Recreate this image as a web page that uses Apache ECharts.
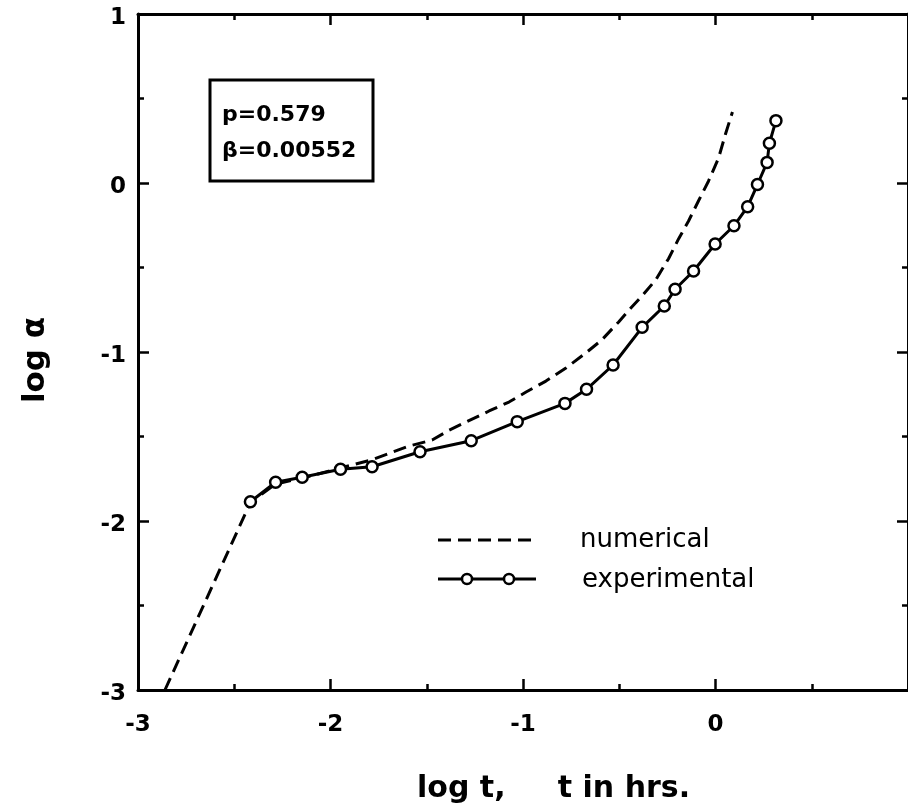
<!DOCTYPE html>
<html>
<head>
<meta charset="utf-8">
<script src="https://cdn.jsdelivr.net/npm/echarts@6/dist/echarts.min.js"></script>
<style>
  html, body { margin: 0; padding: 0; background: #fff; }
  #chart { width: 908px; height: 808px; }
</style>
</head>
<body>
<div id="chart"></div>
<script>
// log t (hrs) and log alpha for the measured points
const expLogT = [-2.416, -2.285, -2.147, -1.948, -1.784, -1.535, -1.269, -1.030, -0.782, -0.670,
                 -0.532, -0.381, -0.266, -0.210, -0.114, -0.002, 0.096, 0.167, 0.218, 0.268, 0.280, 0.314];
const expLogA = [-1.886, -1.771, -1.741, -1.694, -1.679, -1.590, -1.525, -1.412, -1.304, -1.221,
                 -1.077, -0.854, -0.728, -0.629, -0.521, -0.361, -0.253, -0.140, -0.009, 0.122, 0.235, 0.369];

// numerical solution curve
const numLogT = [-2.860, -2.415, -2.285, -2.145, -1.948, -1.788, -1.591, -1.472, -1.383, -1.295, -1.176,
                 -1.073, -0.984, -0.881, -0.777, -0.674, -0.591, -0.503, -0.435, -0.383, -0.311, -0.244,
                 -0.192, -0.140, -0.088, -0.036, 0.016, 0.052, 0.088];
const numLogA = [-3.000, -1.888, -1.781, -1.746, -1.686, -1.639, -1.556, -1.521, -1.462, -1.414, -1.349,
                 -1.296, -1.237, -1.172, -1.095, -1.006, -0.929, -0.822, -0.734, -0.670, -0.574, -0.448,
                 -0.331, -0.225, -0.105, 0.012, 0.148, 0.290, 0.420];

const xTicks = [-3, -2, -1, 0, 1];
const yTicks = [-3, -2, -1, 0, 1];
const paramLines = ['p=0.579', 'β=0.00552'];
const legendNames = ['numerical', 'experimental'];
const xTitle = 'log t,     t in hrs.';
const yTitle = 'log α';

const zip = (a, b) => a.map((v, i) => [v, b[i]]);

const chart = echarts.init(document.getElementById('chart'), null, { renderer: 'canvas' });

const boldFont = { fontFamily: 'DejaVu Sans', fontWeight: 'bold', color: '#000' };
const frameLine = { show: true, onZero: false, lineStyle: { color: '#000', width: 3 } };
const inTick = { show: true, inside: true, length: 11, lineStyle: { color: '#000', width: 2.5 } };
const inMinor = { show: true, splitNumber: 2, length: 6, lineStyle: { color: '#000', width: 2.5 } };

function baseAxis(extra) {
  return Object.assign({
    type: 'value', min: -3, max: 1, interval: 1,
    axisLine: frameLine, axisTick: inTick, minorTick: inMinor,
    splitLine: { show: false }, minorSplitLine: { show: false }
  }, extra);
}

chart.setOption({
  backgroundColor: '#fff',
  animation: false,
  grid: { left: 138, top: 14, right: -2, bottom: 118 },
  xAxis: [
    baseAxis({
      position: 'bottom',
      axisLabel: Object.assign({ fontSize: 23, margin: 24, showMaxLabel: false,
        formatter: v => xTicks.includes(v) ? String(v) : '' }, boldFont)
    }),
    baseAxis({ position: 'top', axisLabel: { show: false } })
  ],
  yAxis: [
    baseAxis({
      position: 'left',
      axisLabel: Object.assign({ fontSize: 23, margin: 12, verticalAlign: 'top', lineHeight: 23,
        padding: [-7, 0, 0, 0],
        formatter: v => yTicks.includes(v) ? String(v) : '' }, boldFont)
    }),
    baseAxis({ position: 'right', axisLabel: { show: false } })
  ],
  series: [
    {
      name: legendNames[0], type: 'line', data: zip(numLogT, numLogA),
      showSymbol: false, symbol: 'none', z: 2,
      lineStyle: { color: '#000', width: 3, type: [13, 7] }
    },
    {
      name: legendNames[1], type: 'line', data: zip(expLogT, expLogA),
      symbol: 'circle', symbolSize: 11, z: 3,
      itemStyle: { color: '#fff', borderColor: '#000', borderWidth: 2.5 },
      lineStyle: { color: '#000', width: 3 }
    }
  ],
  graphic: [
    // parameter box
    { type: 'rect', shape: { x: 210, y: 80, width: 163, height: 101 },
      style: { fill: '#fff', stroke: '#000', lineWidth: 3 }, z: 10 },
    { type: 'text', x: 222, y: 115, z: 11,
      style: { text: paramLines[0], fontSize: 22, verticalAlign: 'middle', fill: '#000', fontFamily: 'DejaVu Sans', fontWeight: 'bold' } },
    { type: 'text', x: 222, y: 151, z: 11,
      style: { text: paramLines[1], fontSize: 22, verticalAlign: 'middle', fill: '#000', fontFamily: 'DejaVu Sans', fontWeight: 'bold' } },
    // legend
    { type: 'line', shape: { x1: 438, y1: 540, x2: 533, y2: 540 }, z: 10,
      style: { stroke: '#000', lineWidth: 3, lineDash: [13, 7] } },
    { type: 'text', x: 580, y: 540, z: 10,
      style: { text: legendNames[0], fontSize: 26, fontFamily: 'DejaVu Sans', verticalAlign: 'middle', fill: '#000' } },
    { type: 'line', shape: { x1: 438, y1: 579, x2: 536, y2: 579 }, z: 10,
      style: { stroke: '#000', lineWidth: 3 } },
    { type: 'circle', shape: { cx: 467, cy: 579, r: 5 }, z: 11,
      style: { fill: '#fff', stroke: '#000', lineWidth: 2.5 } },
    { type: 'circle', shape: { cx: 509, cy: 579, r: 5 }, z: 11,
      style: { fill: '#fff', stroke: '#000', lineWidth: 2.5 } },
    { type: 'text', x: 582, y: 580, z: 10,
      style: { text: legendNames[1], fontSize: 26, fontFamily: 'DejaVu Sans', verticalAlign: 'middle', fill: '#000' } },
    // axis titles
    { type: 'text', x: 417, y: 789, z: 10,
      style: { text: xTitle, fontSize: 30, fontFamily: 'DejaVu Sans', fontWeight: 'bold', verticalAlign: 'middle', fill: '#000' } },
    { type: 'text', x: 36, y: 360, rotation: Math.PI / 2, z: 10,
      style: { text: yTitle, fontSize: 31, fontFamily: 'DejaVu Sans', fontWeight: 'bold', align: 'center', verticalAlign: 'middle', fill: '#000' } }
  ]
});
</script>
</body>
</html>
